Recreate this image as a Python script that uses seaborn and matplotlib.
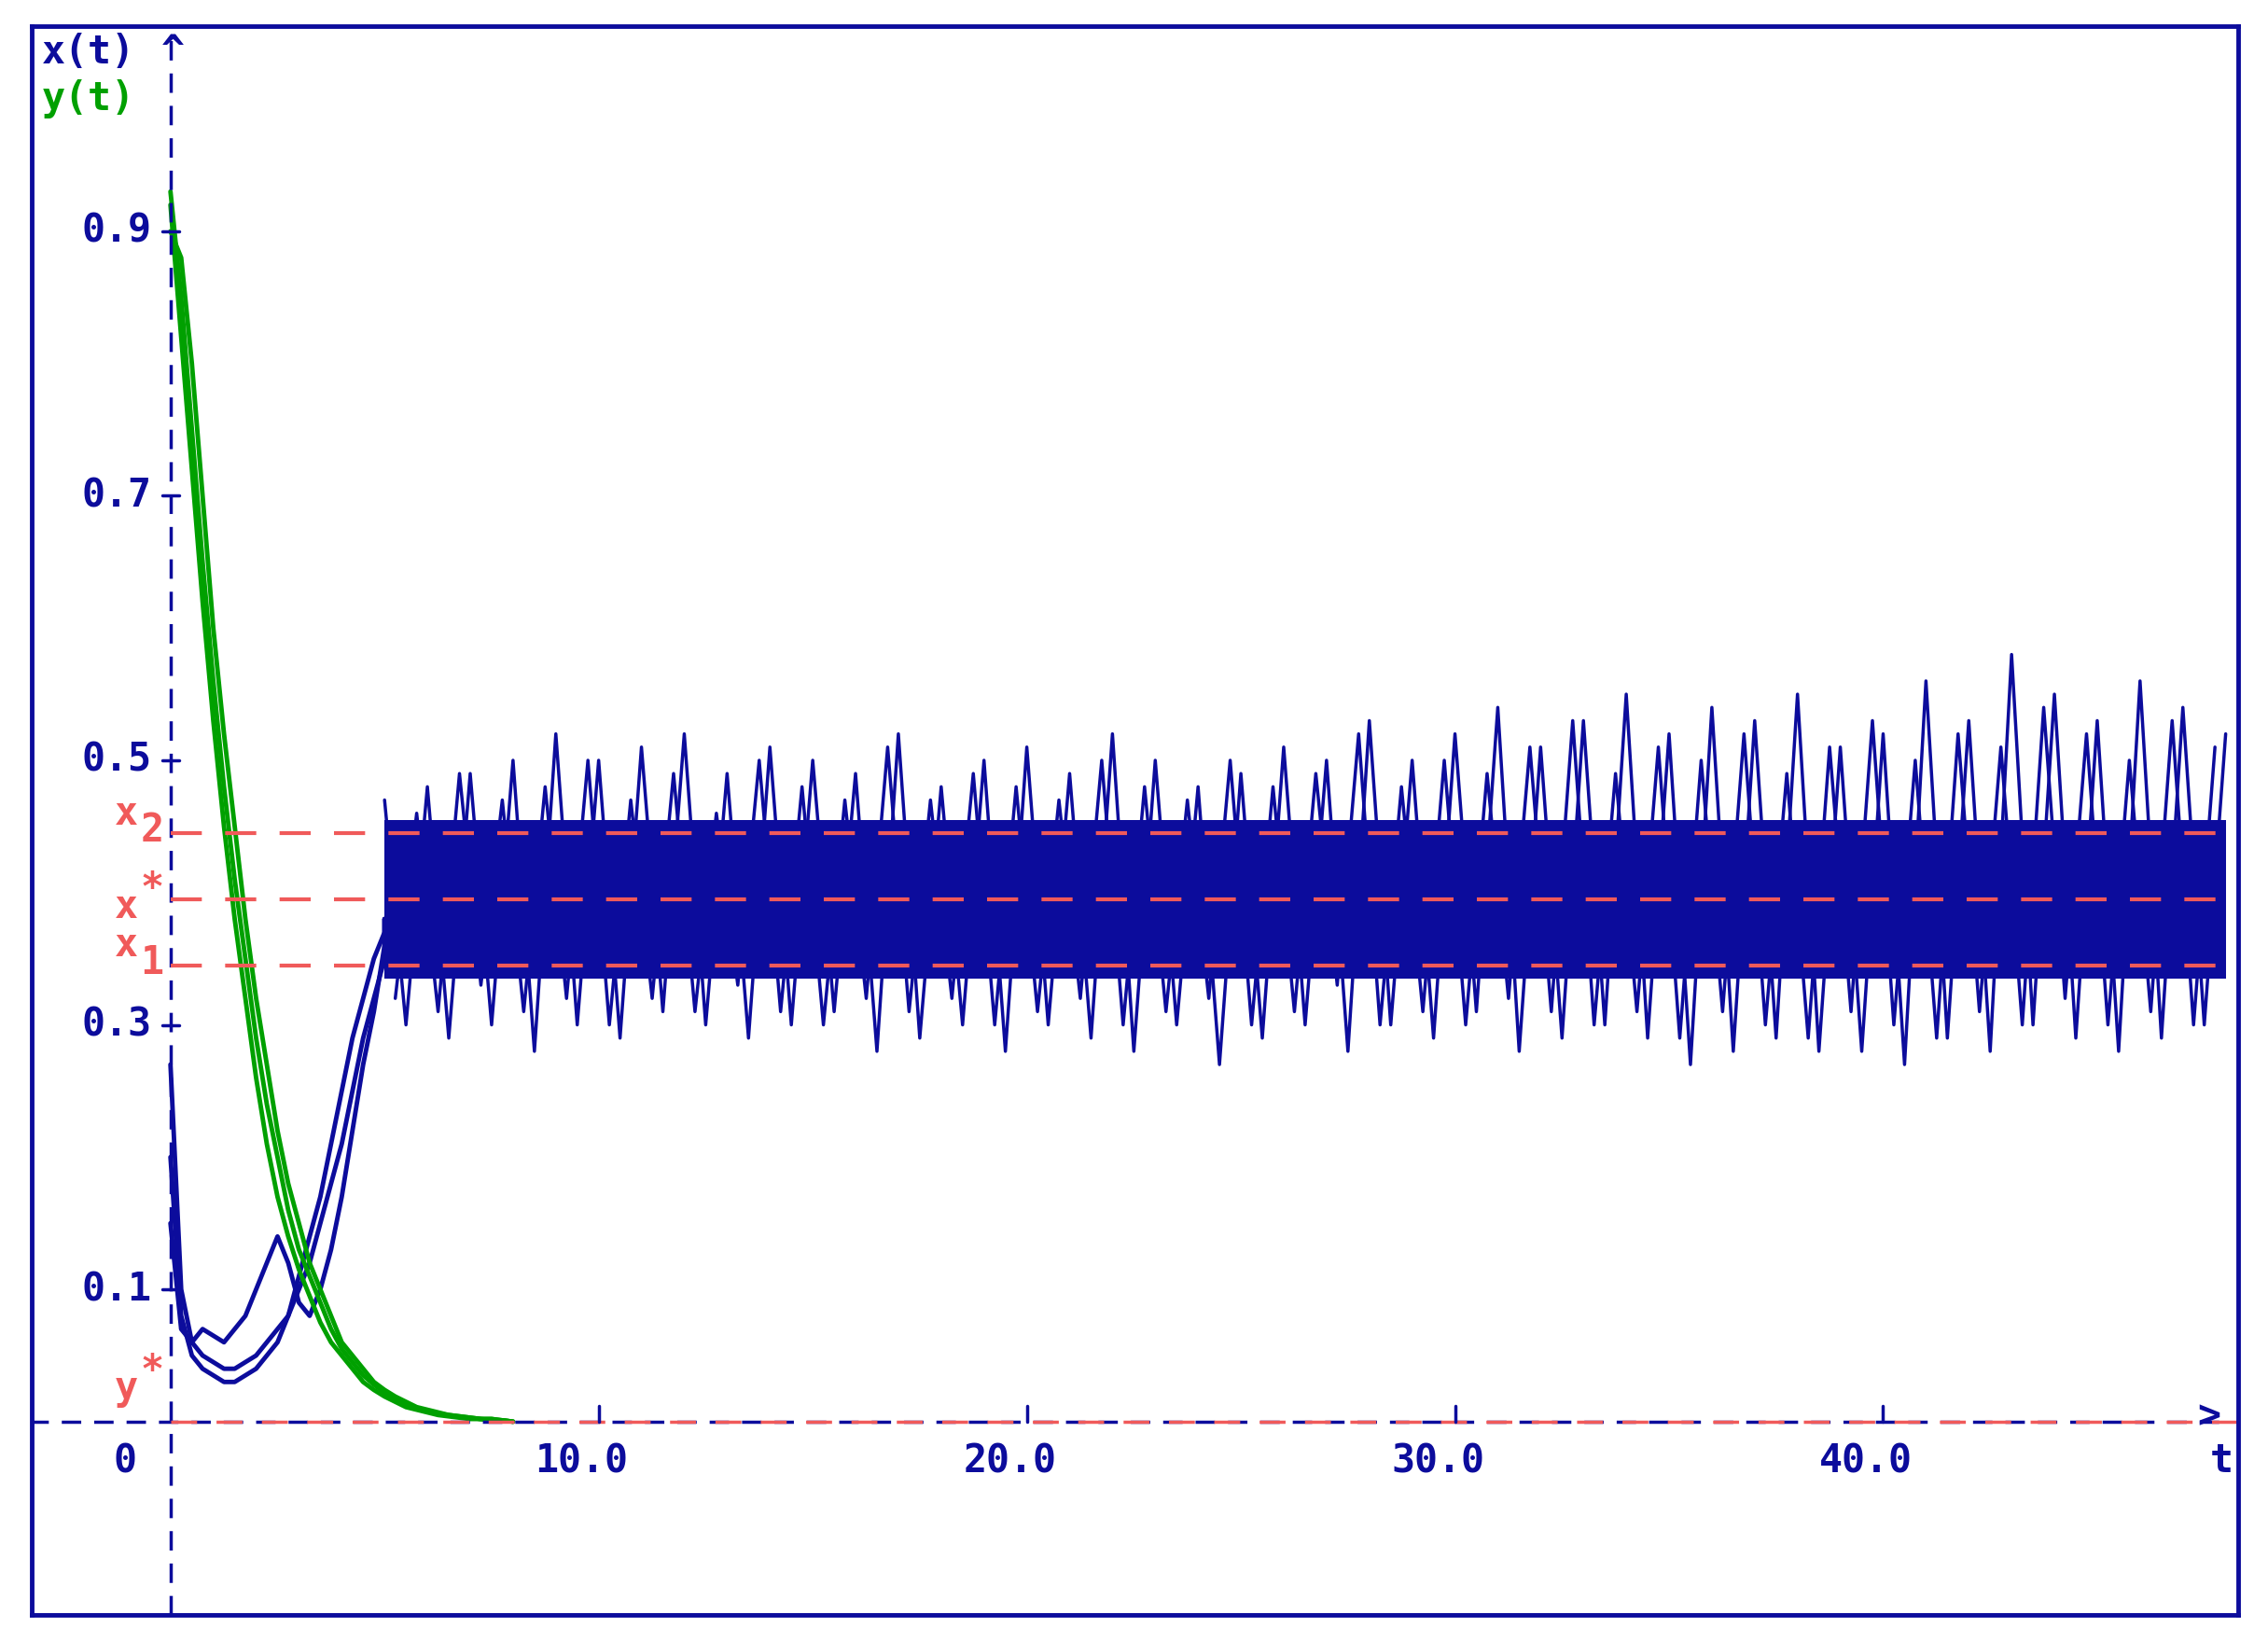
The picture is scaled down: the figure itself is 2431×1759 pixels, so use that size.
import matplotlib
matplotlib.use("Agg")
import matplotlib.pyplot as plt
import seaborn as sns
import numpy as np

sns.set_style("white")
plt.rcParams['font.family'] = ['DejaVu Sans Mono']

BLUE = "#0c0c9c"
GREEN = "#00a000"
RED = "#f05a5a"

# early x(t) trajectories, t = 0..5 step 0.25
t_early = [i * 0.25 for i in range(21)]
x_a = [0.27, 0.10, 0.06, 0.05, 0.045, 0.04, 0.04, 0.045, 0.05, 0.06, 0.07, 0.08, 0.10, 0.12, 0.15, 0.18, 0.21, 0.25, 0.29, 0.32, 0.35]
x_b = [0.20, 0.08, 0.05, 0.04, 0.035, 0.03, 0.03, 0.035, 0.04, 0.05, 0.06, 0.08, 0.11, 0.14, 0.17, 0.21, 0.25, 0.29, 0.32, 0.35, 0.37]
x_c = [0.15, 0.07, 0.06, 0.07, 0.065, 0.06, 0.07, 0.08, 0.10, 0.12, 0.14, 0.12, 0.09, 0.08, 0.10, 0.13, 0.17, 0.22, 0.27, 0.31, 0.36]

# stationary band of x(t): peaks at t=5..48, troughs at t=5.5..47.5
x_peaks = [0.47, 0.48, 0.49, 0.50, 0.52, 0.50, 0.51, 0.52, 0.49, 0.51, 0.50, 0.49, 0.52, 0.48, 0.50,
           0.51, 0.49, 0.52, 0.50, 0.48, 0.49, 0.51, 0.50, 0.53, 0.50, 0.52, 0.54, 0.51, 0.53, 0.55,
           0.52, 0.54, 0.53, 0.55, 0.51, 0.52, 0.56, 0.53, 0.58, 0.55, 0.53, 0.56, 0.54, 0.52]
x_troughs = [0.30, 0.29, 0.30, 0.28, 0.30, 0.29, 0.31, 0.30, 0.29, 0.30, 0.31, 0.28, 0.29, 0.30, 0.28,
             0.30, 0.29, 0.28, 0.30, 0.27, 0.29, 0.30, 0.28, 0.30, 0.29, 0.31, 0.28, 0.29, 0.30, 0.29,
             0.27, 0.28, 0.29, 0.28, 0.28, 0.27, 0.29, 0.28, 0.30, 0.29, 0.28, 0.29, 0.30]
x_spikes_hi = [0.46, 0.49, 0.47, 0.48, 0.50, 0.47, 0.49, 0.46, 0.50, 0.48, 0.47, 0.51, 0.47, 0.49, 0.48,
               0.47, 0.50, 0.48, 0.47, 0.50, 0.48, 0.49, 0.52, 0.48, 0.50, 0.49, 0.51, 0.53, 0.49, 0.51,
               0.50, 0.52, 0.49, 0.51, 0.53, 0.50, 0.52, 0.51, 0.54, 0.52, 0.50, 0.53, 0.51]
x_spikes_lo = [0.32, 0.31, 0.33, 0.31, 0.32, 0.30, 0.32, 0.31, 0.33, 0.31, 0.30, 0.32, 0.31, 0.32, 0.30,
               0.31, 0.32, 0.30, 0.31, 0.32, 0.30, 0.31, 0.33, 0.30, 0.31, 0.30, 0.32, 0.31, 0.30, 0.31,
               0.29, 0.31, 0.30, 0.29, 0.31, 0.30, 0.29, 0.31, 0.30, 0.32, 0.30, 0.31, 0.30]
core_lo, core_hi = 0.335, 0.455

# y(t) trajectories, t = 0..8 step 0.25
t_green = [i * 0.25 for i in range(33)]
y_a = [0.93, 0.85, 0.75, 0.65, 0.56, 0.48, 0.41, 0.35, 0.29, 0.24, 0.20, 0.16, 0.13, 0.11, 0.09, 0.07, 0.055,
       0.045, 0.035, 0.028, 0.022, 0.017, 0.013, 0.010, 0.008, 0.006, 0.005, 0.004, 0.003, 0.002, 0.002, 0.001, 0.0]
y_b = [0.90, 0.88, 0.80, 0.70, 0.60, 0.52, 0.45, 0.38, 0.32, 0.27, 0.22, 0.18, 0.15, 0.12, 0.10, 0.08, 0.06,
       0.05, 0.04, 0.03, 0.024, 0.019, 0.015, 0.011, 0.009, 0.007, 0.005, 0.004, 0.003, 0.002, 0.002, 0.001, 0.0]
y_c = [0.92, 0.82, 0.72, 0.62, 0.53, 0.45, 0.38, 0.32, 0.26, 0.21, 0.17, 0.14, 0.115, 0.095, 0.075, 0.06, 0.05,
       0.04, 0.03, 0.024, 0.019, 0.015, 0.011, 0.009, 0.007, 0.005, 0.004, 0.003, 0.002, 0.002, 0.001, 0.001, 0.0]

levels = [("2", 0.445), ("*", 0.395), ("1", 0.345)]
xticks = [10, 20, 30, 40]
yticks = [0.1, 0.3, 0.5, 0.7, 0.9]

fig = plt.figure(figsize=(24.31, 17.59), dpi=100)
ax = fig.add_axes([0.014, 0.016, 0.973, 0.968])
ax.set_xlim(-3.24, 48.3)
ax.set_ylim(-0.146, 1.055)
ax.set_xticks([])
ax.set_yticks([])
for s in ax.spines.values():
    s.set_color(BLUE)
    s.set_linewidth(3.5)

# blue band
t_band = list(range(5, 49))
ax.fill_between(t_band, core_lo, core_hi, color=BLUE, lw=0)
zz_t, zz_v = [], []
for i, p in enumerate(x_peaks):
    zz_t.append(t_band[i]); zz_v.append(p)
    if i < len(x_troughs):
        zz_t.append(t_band[i] + 0.5); zz_v.append(x_troughs[i])
ax.plot(zz_t, zz_v, color=BLUE, lw=2.5)
z2_t, z2_v = [], []
for i in range(len(x_spikes_hi)):
    z2_t += [t_band[i] + 0.25, t_band[i] + 0.75]
    z2_v += [x_spikes_lo[i], x_spikes_hi[i]]
ax.plot(z2_t, z2_v, color=BLUE, lw=2.5)
for xs in (x_a, x_b, x_c):
    ax.plot(t_early + [5.0], xs + [0.38], color=BLUE, lw=3.5)

# green
for ys in (y_a, y_b, y_c):
    ax.plot(t_green, ys, color=GREEN, lw=3.5)

# axes lines
ax.axvline(0, color=BLUE, ls=(0, (6, 4)), lw=2.5)
ax.plot([-3.3, 48.0], [0, 0], color=BLUE, ls=(0, (6, 4)), lw=2.5)
ax.plot([0, 48.3], [0, 0], color=RED, ls=(0, (8, 6)), lw=2.5)
for _, v in levels:
    ax.plot([0, 48.3], [v, v], color=RED, ls=(0, (8, 6)), lw=3)

# ticks
tk = dict(color=BLUE, fontsize=30, fontweight="bold")
for t in xticks:
    ax.plot([t, t], [0, 0.012], color=BLUE, lw=2.5)
    ax.text(t - 0.4, -0.015, f"{t:.1f}", ha="center", va="top", **tk)
for v in yticks:
    ax.plot([-0.2, 0.2], [v, v], color=BLUE, lw=2.5)
    ax.text(-0.45, v, f"{v:.1f}", ha="right", va="center", **tk)
ax.text(-0.8, -0.015, "0", ha="right", va="top", **tk)
ax.text(47.9, -0.015, "t", ha="center", va="top", **tk)
ax.text(-3.0, 1.035, "x(t)", ha="left", va="center", **tk)
ax.text(0.05, 1.035, "^", ha="center", va="center", **tk)
ax.text(47.6, 0.004, ">", ha="center", va="center", **tk)
tk_g = dict(tk); tk_g["color"] = GREEN
ax.text(-3.0, 1.0, "y(t)", ha="left", va="center", **tk_g)

# red labels
rl = dict(color=RED, fontsize=30, fontweight="bold")
for sub, v in levels:
    if sub == "*":
        ax.text(-1.3, v - 0.006, "x", ha="left", va="center", **rl)
        ax.text(-0.7, v + 0.008, "*", ha="left", va="center", **rl)
    else:
        ax.text(-1.3, v + 0.015, "x", ha="left", va="center", **rl)
        ax.text(-0.7, v + 0.002, sub, ha="left", va="center", **rl)
ax.text(-1.3, 0.025, "y", ha="left", va="center", **rl)
ax.text(-0.7, 0.038, "*", ha="left", va="center", **rl)

fig.savefig("out.png", dpi=100)
